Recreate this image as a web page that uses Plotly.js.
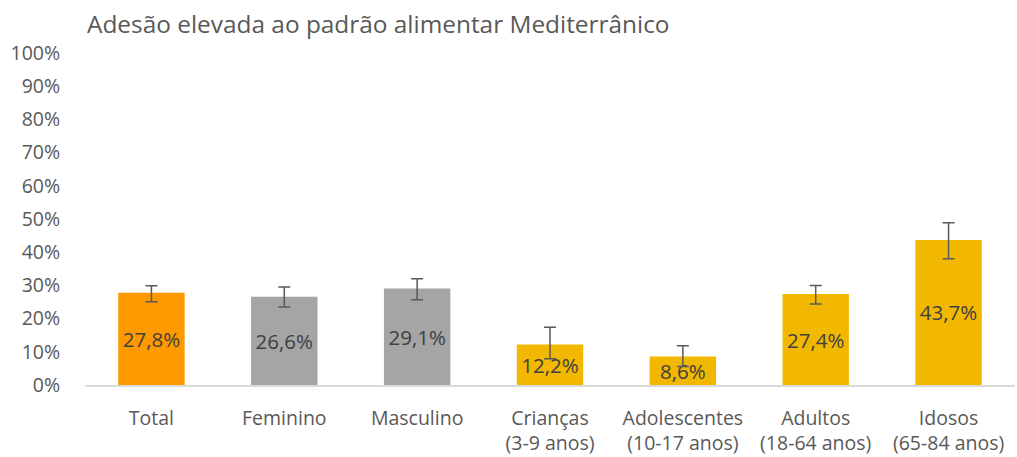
<!DOCTYPE html>
<html><head><meta charset="utf-8">
<script src="https://cdn.plot.ly/plotly-3.0.1.min.js"></script>
<style>html,body{margin:0;padding:0;background:#fff}</style>
</head><body>
<div id="chart" style="width:1017px;height:457px"></div>
<script>
const categories = ["Total","Feminino","Masculino","Crianças<br>(3-9 anos)","Adolescentes<br>(10-17 anos)","Adultos<br>(18-64 anos)","Idosos<br>(65-84 anos)"];
const values = [27.8, 26.6, 29.1, 12.2, 8.6, 27.4, 43.7];
const errPlus = [2.1, 2.9, 2.9, 5.2, 3.2, 2.6, 5.2];
const errMinus = [2.7, 3.1, 3.4, 4.3, 3.0, 3.0, 5.7];
const barColors = ["#FF9900","#A5A5A5","#A5A5A5","#F2B800","#F2B800","#F2B800","#F2B800"];
const labels = values.map(v => v.toFixed(1).replace('.', ',') + '%');
const yTickVals = [0,10,20,30,40,50,60,70,80,90,100];
const yTickText = yTickVals.map(v => v + '%');

const font = "'Open Sans', sans-serif";
Plotly.newPlot('chart', [{
  type: 'bar',
  x: categories,
  y: values,
  marker: {color: barColors},
  width: 0.5,
  text: labels,
  textposition: 'inside',
  insidetextanchor: 'middle',
  textangle: 0,
  textfont: {family: font, size: 20.5, color: '#404040'},
  constraintext: 'none',
  cliponaxis: false,
  error_y: {type: 'data', symmetric: false, array: errPlus, arrayminus: errMinus,
            color: '#595959', thickness: 1.5, width: 6},
  hoverinfo: 'none'
}], {
  width: 1017, height: 457,
  margin: {l: 85, r: 2, t: 53, b: 72},
  paper_bgcolor: '#fff', plot_bgcolor: '#fff',
  title: {text: 'Adesão elevada ao padrão alimentar Mediterrânico', x: 87/1017, xanchor: 'left', y: 1 - 24/457, yanchor: 'middle',
          font: {family: font, size: 24.4, color: '#595959'}},
  xaxis: {showgrid: false, showline: true, linecolor: '#D9D9D9', linewidth: 1.5, zeroline: false,
          ticks: 'outside', ticklen: 15, tickcolor: 'rgba(0,0,0,0)',
          tickfont: {family: font, size: 19.5, color: '#595959'}},
  yaxis: {range: [0, 100], tickvals: yTickVals, ticktext: yTickText, showgrid: false, zeroline: false, showline: false,
          ticks: 'outside', ticklen: 20, tickcolor: 'rgba(0,0,0,0)',
          tickfont: {family: font, size: 19.5, color: '#595959'}},
  showlegend: false,
  bargap: 0.5
}, {displayModeBar: false, staticPlot: true});
</script>
</body></html>
